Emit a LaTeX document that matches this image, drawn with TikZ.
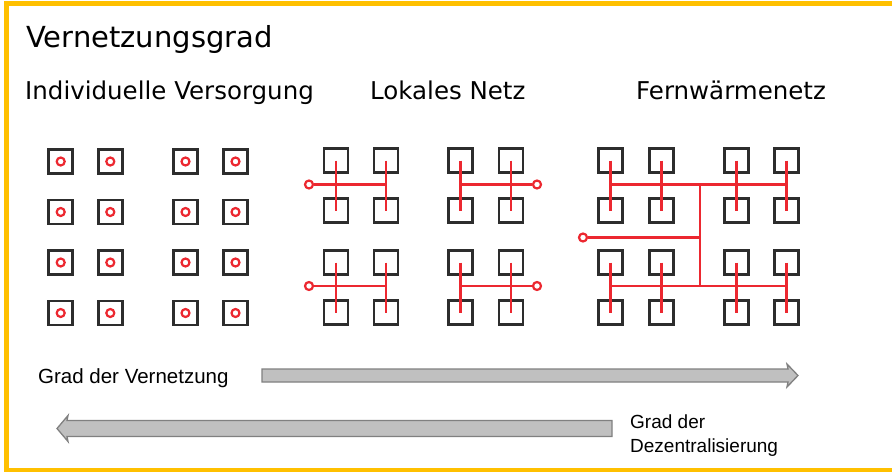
\documentclass[tikz,border=0pt]{standalone}
\usepackage{fontspec}
\setmainfont{DejaVu Sans}
\newfontfamily\labelfont{Liberation Sans}
\definecolor{frameorange}{RGB}{255,192,0}
\definecolor{pipered}{RGB}{236,40,48}
\definecolor{wallgray}{RGB}{45,45,45}
\definecolor{arrowfill}{RGB}{192,192,192}
\definecolor{arrowline}{RGB}{128,128,128}
\tikzset{
  house/.style={draw=wallgray, line width=2.8pt, minimum size=24pt, inner sep=0pt, rectangle},
  source/.style={circle, draw=pipered, line width=2.2pt, minimum size=8pt, inner sep=0pt, fill=white},
  pipe/.style={draw=pipered, line width=2.3pt},
  heading/.style={anchor=base west, inner sep=0pt, font=\fontsize{29}{34}\selectfont},
  groupname/.style={anchor=base west, inner sep=0pt, font=\fontsize{24.5}{29}\selectfont},
  axislabel/.style={anchor=base west, inner sep=0pt, font=\labelfont\fontsize{19}{23}\selectfont},
  bigarrow/.style={fill=arrowfill, draw=arrowline, line width=1.3pt, line join=miter},
}
\begin{document}
\begin{tikzpicture}[x=1pt, y=-1pt]
\useasboundingbox (0,0) rectangle (892,472);
% frame, open on the right
\draw[frameorange, line width=4.5pt] (892,3.5) -- (6.5,3.5) -- (6.5,470) -- (892,470);

% titles
\node[heading] (title) at (26,47) {Vernetzungsgrad};
\node[groupname] (tind) at (25,99) {Individuelle Versorgung};
\node[groupname] (tlok) at (370,99) {Lokales Netz};
\node[groupname] (tfern) at (636,99) {Fernwärmenetz};

% individual supply: 4 x 4 houses, each with its own source
\foreach \c/\x in {1/60.7, 2/110.3, 3/185.5, 4/235.5}{
  \foreach \r/\y in {1/161.5, 2/212, 3/262.5, 4/313}{
    \node[house] (i\r\c) at (\x,\y) {};
    \node[source] (is\r\c) at (i\r\c.center) {};
  }
}

% local networks and district heating: houses
\foreach \c/\x in {1/336, 2/386, 3/460.5, 4/511}{
  \foreach \r/\y in {1/160.5, 2/210.5, 3/262.5, 4/312.5}{
    \node[house] (l\r\c) at (\x,\y) {};
  }
}
\foreach \c/\x in {1/610.5, 2/661.5, 3/736.5, 4/786.5}{
  \foreach \r/\y in {1/160.5, 2/210.5, 3/262.5, 4/312.5}{
    \node[house] (f\r\c) at (\x,\y) {};
  }
}

% local networks: four small grids, each with its own plant
\foreach \r/\s/\y in {1/2/184.5, 3/4/286}{
  % left grid, plant on the left
  \node[source] (lsa\r) at (309,\y) {};
  \coordinate (lja\r) at (l\r2.center |- lsa\r);
  \draw[pipe] (l\r1.center) -- (l\s1.center);
  \draw[pipe] (l\r2.center) -- (l\s2.center);
  \draw[pipe] (lsa\r) -- (lja\r);
  % right grid, plant on the right
  \node[source] (lsb\r) at (537,\y) {};
  \coordinate (ljb\r) at (l\r3.center |- lsb\r);
  \draw[pipe] (l\r3.center) -- (l\s3.center);
  \draw[pipe] (l\r4.center) -- (l\s4.center);
  \draw[pipe] (lsb\r) -- (ljb\r);
}

% district heating: one plant feeding all houses
\node[source] (fs) at (583,237.5) {};
\coordinate (ftop) at (700,184.5);
\coordinate (fbot) at (700,286);
\coordinate (ffeed) at (ftop |- fs);
\foreach \r/\s in {1/2, 3/4}{
  \foreach \c in {1,2,3,4}{
    \draw[pipe] (f\r\c.center) -- (f\s\c.center);
  }
}
\draw[pipe] (f11.center |- ftop) -- (f14.center |- ftop);
\draw[pipe] (f31.center |- fbot) -- (f34.center |- fbot);
\draw[pipe] (ftop) -- (fbot);
\draw[pipe] (fs) -- (ffeed);

% axis arrows
\draw[bigarrow] (262,369) -- (788,369) -- (787,364) -- (798,375.5) -- (787,387) -- (788,382) -- (262,382) -- cycle;
\draw[bigarrow] (612,420.5) -- (67,420.5) -- (68,415.5) -- (57,428.5) -- (68,441.5) -- (67,436.5) -- (612,436.5) -- cycle;

\node[axislabel, font=\labelfont\fontsize{20.5}{24}\selectfont] (avn) at (38,383) {Grad der Vernetzung};
\node[axislabel] (adz1) at (630,428) {Grad der};
\node[axislabel] (adz2) at (630,452) {Dezentralisierung};
\end{tikzpicture}
\end{document}
